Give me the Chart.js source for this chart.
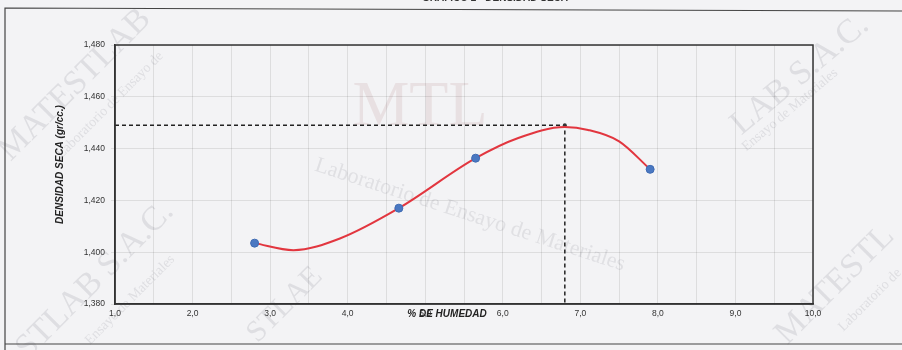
<!DOCTYPE html>
<html>
<head>
<meta charset="utf-8">
<script src="https://cdn.jsdelivr.net/npm/chart.js@4.4.1/dist/chart.umd.min.js"></script>
<style>
  html, body { margin: 0; padding: 0; background: #f3f3f5; }
  #wrap { width: 902px; height: 350px; position: relative; }
</style>
</head>
<body>
<div id="wrap"><canvas id="proctor-chart" width="902" height="350"></canvas></div>
<script>
// ensayo proctor: humedad (%) vs densidad seca (gr/cc)
const humedad = [2.8, 4.66, 5.65, 7.9];
const densidad = [1.4035, 1.417, 1.4363, 1.432];

// curva de ajuste leida punto a punto
const curvaHumedad = [2.8, 3.3, 3.9, 4.66, 5.65, 6.2, 6.8, 7.1, 7.5, 7.9];
const curvaDensidad = [1.4035, 1.4008, 1.4053, 1.417, 1.4363, 1.4441, 1.4483, 1.4472, 1.4428, 1.432];

// optimo contenido de humedad / maxima densidad seca
const optHumedad = 6.8;
const maxDensidad = 1.449;

const xMin = 1.0;
const xMax = 10.0;
const yMin = 1.38;
const yMax = 1.48;

const toPoints = (xs, ys) => xs.map((x, i) => ({ x, y: ys[i] }));
const coma = (v, d) => v.toFixed(d).replace('.', ',');

const marcaAgua = {
  id: 'marcaAgua',
  beforeDraw(chart) {
    const { ctx } = chart;
    ctx.save();
    ctx.fillStyle = '#f3f3f5';
    ctx.fillRect(0, 0, chart.width, chart.height);

    const texto = (t, x, y, ang, size, color, font) => {
      ctx.save();
      ctx.translate(x, y);
      ctx.rotate(ang * Math.PI / 180);
      ctx.font = `${size}px ${font || '"Liberation Serif", serif'}`;
      ctx.fillStyle = color;
      ctx.textAlign = 'center';
      ctx.textBaseline = 'middle';
      ctx.fillText(t, 0, 0);
      ctx.restore();
    };
    const gris = 'rgba(140,140,150,0.2)';
    texto('MATESTLAB', 75, 85, -45, 34, gris);
    texto('Laboratorio de Ensayo de', 110, 105, -45, 14, gris);
    texto('STLAB S.A.C.', 95, 280, -45, 34, gris);
    texto('Ensayo de Materiales', 130, 300, -45, 14, gris);
    texto('LAB S.A.C.', 800, 75, -40, 34, gris);
    texto('Ensayo de Materiales', 790, 110, -40, 14, gris);
    texto('MATESTL', 835, 285, -45, 34, gris);
    texto('Laboratorio de', 870, 300, -45, 14, gris);
    texto('STLAE', 285, 305, -45, 30, gris);
    texto('Laboratorio de Ensayo de Materiales', 470, 215, 18, 22, 'rgba(140,140,150,0.18)');
    texto('MTL', 420, 108, 0, 64, 'rgba(190,150,150,0.2)');

    // marco de la hoja
    ctx.strokeStyle = '#444';
    ctx.lineWidth = 1.2;
    ctx.beginPath();
    ctx.moveTo(5, 350);
    ctx.lineTo(5, 8);
    ctx.lineTo(902, 11);
    ctx.stroke();
    ctx.beginPath();
    ctx.moveTo(5, 344);
    ctx.lineTo(902, 344);
    ctx.stroke();

    ctx.font = 'bold 10px "Liberation Sans", Arial, sans-serif';
    ctx.fillStyle = '#333';
    ctx.textAlign = 'center';
    ctx.textBaseline = 'alphabetic';
    ctx.fillText('GRÁFICO 2 - DENSIDAD SECA', 495, 1);
    ctx.restore();
  },
  afterDraw(chart) {
    const { ctx, chartArea: a } = chart;
    ctx.save();
    ctx.strokeStyle = '#333';
    ctx.lineWidth = 1.5;
    ctx.strokeRect(a.left, a.top, a.right - a.left, a.bottom - a.top);

    ctx.font = 'italic bold 10px "Liberation Sans", Arial, sans-serif';
    ctx.fillStyle = '#222';
    ctx.textAlign = 'center';
    ctx.textBaseline = 'middle';
    ctx.fillText('% DE HUMEDAD', 447, a.bottom + 10);

    ctx.translate(60, (a.top + a.bottom) / 2 - 10);
    ctx.rotate(-Math.PI / 2);
    ctx.fillText('DENSIDAD SECA (gr/cc.)', 0, 0);
    ctx.restore();
  },
};

new Chart(document.getElementById('proctor-chart'), {
  type: 'scatter',
  data: {
    datasets: [
      {
        label: 'Curva',
        data: toPoints(curvaHumedad, curvaDensidad),
        showLine: true,
        borderColor: '#e2363f',
        borderWidth: 2,
        pointRadius: 0,
        cubicInterpolationMode: 'monotone',
        order: 2,
      },
      {
        label: 'Optimo',
        data: [
          { x: xMin, y: maxDensidad },
          { x: optHumedad, y: maxDensidad },
          { x: optHumedad, y: yMin },
        ],
        showLine: true,
        borderColor: '#222',
        borderWidth: 1.5,
        borderDash: [4, 3],
        pointRadius: [0, 2, 0],
        pointBackgroundColor: '#333',
        pointBorderWidth: 0,
        tension: 0,
        order: 3,
      },
      {
        label: 'Ensayos',
        data: toPoints(humedad, densidad),
        backgroundColor: '#4a78c2',
        borderColor: '#3f6bb3',
        borderWidth: 1,
        pointRadius: 4,
        order: 1,
      },
    ],
  },
  options: {
    responsive: false,
    animation: false,
    maintainAspectRatio: false,
    devicePixelRatio: 1,
    layout: { padding: { left: 0, right: 89, top: 45, bottom: 0 } },
    plugins: {
      legend: { display: false },
      tooltip: { enabled: false },
    },
    scales: {
      x: {
        type: 'linear',
        min: xMin,
        max: xMax,
        afterFit(scale) { scale.height = 46; },
        ticks: {
          stepSize: 0.5,
          autoSkip: false,
          maxRotation: 0,
          padding: 5,
          color: '#333',
          font: { family: '"Liberation Sans", Arial, sans-serif', size: 8.5 },
          callback: (v) => (Math.abs(v - Math.round(v)) < 1e-6 ? coma(v, 1) : ''),
        },
        grid: { color: 'rgba(0,0,0,0.09)', tickLength: 0 },
        border: { color: '#333', width: 1.5 },
      },
      y: {
        type: 'linear',
        min: yMin,
        max: yMax,
        afterFit(scale) { scale.width = 115; },
        ticks: {
          stepSize: 0.02,
          autoSkip: false,
          padding: 6,
          color: '#333',
          font: { family: '"Liberation Sans", Arial, sans-serif', size: 8.5 },
          callback: (v) => coma(v, 3),
        },
        grid: { color: 'rgba(0,0,0,0.09)', tickLength: 4 },
        border: { color: '#333', width: 1.5 },
      },
    },
  },
  plugins: [marcaAgua],
});
</script>
</body>
</html>
